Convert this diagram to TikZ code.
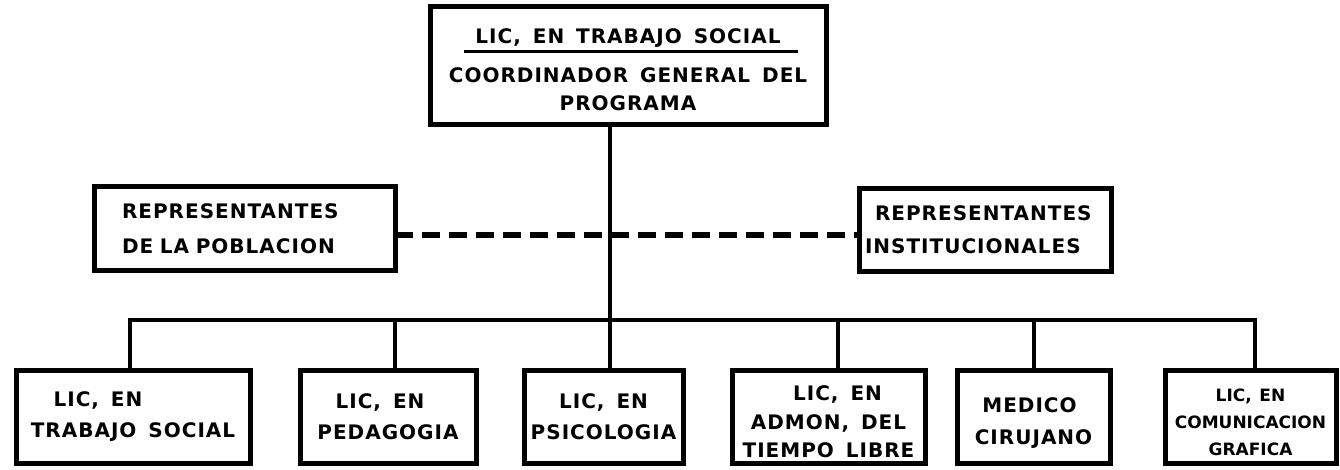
\documentclass[tikz,border=0pt]{standalone}
\usepackage{fontspec}
\newfontfamily\labfont{DejaVu Sans}[LetterSpace=5, WordSpace=1.5]
\newfontfamily\labtight{DejaVu Sans}[WordSpace=1.3]
\newcommand\raiseby[1]{\rule{0pt}{#1pt}}
\begin{document}
\begin{tikzpicture}[x=1pt,y=-1pt,
  box/.style={draw=black, line width=5pt, rectangle, inner sep=0pt, outer sep=0pt,
    align=center, font=\labfont\bfseries\fontsize{20}{31}\selectfont},
  link/.style={line width=4.5pt, draw=black, line join=miter},
  dlink/.style={line width=5.5pt, draw=black, dash pattern=on 18pt off 9pt},
]
\useasboundingbox (0,0) rectangle (1340,470);
\fill[white] (0,0) rectangle (1340,470);

% top box
\node[box, minimum width=396, minimum height=118,
  font=\labfont\bfseries\fontsize{20}{28}\selectfont] (top) at (628,66)
  {\raiseby{23}LIC, EN TRABAJO SOCIAL\\[11pt]COORDINADOR GENERAL DEL\\PROGRAMA};
\draw[line width=3pt] ([xshift=34pt,yshift=-45pt]top.north west) -- ([xshift=-28pt,yshift=-45pt]top.north east);

% representatives
\node[box, minimum width=301, minimum height=83, text width=245, inner xsep=28, align=left,
  font=\labfont\bfseries\fontsize{20}{35}\selectfont] (rpop) at (244.5,228.5)
  {REPRESENTANTES\\DE LA POBLACION};
\node[box, minimum width=252, minimum height=82, text width=240, inner xsep=6, align=left,
  font=\labfont\bfseries\fontsize{20}{33}\selectfont] (rins) at (985,230)
  {\hspace*{10pt}REPRESENTANTES\\INSTITUCIONALES};

% bottom boxes
\node[box, minimum width=234, minimum height=93] (b1) at (133,416.5)
  {LIC, EN\hspace*{70pt}\\TRABAJO SOCIAL};
\node[box, minimum width=176, minimum height=93] (b2) at (388,416.5)
  {LIC, EN\hspace*{16pt}\\PEDAGOGIA};
\node[box, minimum width=159, minimum height=93] (b3) at (603.5,416.5)
  {LIC, EN\\PSICOLOGIA};
\node[box, minimum width=193, minimum height=93,
  font=\labfont\bfseries\fontsize{20}{28.5}\selectfont] (b4) at (828.5,416.5)
  {\raiseby{26}\hspace*{18pt}LIC, EN\\ADMON, DEL\\TIEMPO LIBRE};
\node[box, minimum width=153, minimum height=93,
  font=\labfont\bfseries\fontsize{20}{32}\selectfont] (b5) at (1033.5,416.5)
  {\raiseby{27}MEDICO\hspace*{8pt}\\CIRUJANO};
\node[box, minimum width=171, minimum height=93,
  font=\labtight\bfseries\fontsize{17}{27}\selectfont] (b6) at (1250.5,416.5)
  {\raiseby{24}LIC, EN\\COMUNICACION\\GRAFICA};

% junction coordinates on the bus
\coordinate (j1) at (130,320);
\coordinate (j2) at (395,320);
\coordinate (j3) at (610,320);
\coordinate (j4) at (838,320);
\coordinate (j5) at (1034,320);
\coordinate (j6) at (1255,320);

% connectors
\draw[link] (top.south -| j3) -- (j3);
\draw[link] (j1 |- b1.north) -- (j1) -- (j6) -- (j6 |- b6.north);
\draw[link] (j2) -- (j2 |- b2.north);
\draw[link] (j3) -- (j3 |- b3.north);
\draw[link] (j4) -- (j4 |- b4.north);
\draw[link] (j5) -- (j5 |- b5.north);
\draw[dlink] ([yshift=-6.5pt]rpop.east) -- ([yshift=-6.5pt]rpop.east -| rins.west);
\end{tikzpicture}
\end{document}
